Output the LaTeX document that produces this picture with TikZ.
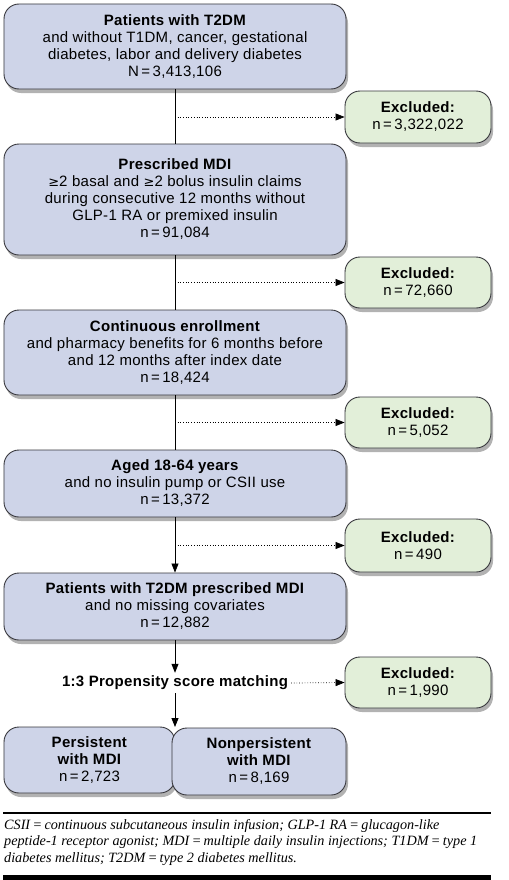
\documentclass[tikz,border=0pt]{standalone}
\usepackage{fontspec}
\setmainfont[LetterSpace=2]{Liberation Sans}
\newfontfamily\notefont{Liberation Serif}
\newfontfamily\symfont{DejaVu Sans}
\usetikzlibrary{arrows.meta,shadows}
\definecolor{boxblue}{RGB}{206,212,232}
\definecolor{boxgreen}{RGB}{226,239,217}
\definecolor{edgegray}{RGB}{55,55,60}
\tikzset{
  mainbox/.style={draw=edgegray, line width=0.9bp, fill=boxblue, rounded corners=15bp,
    minimum width=342bp, align=center, inner sep=2bp,
    font=\fontsize{15bp}{17bp}\selectfont,
    drop shadow={shadow xshift=2bp, shadow yshift=-4bp, opacity=0.3, fill=black}},
  exbox/.style={draw=edgegray, line width=0.9bp, fill=boxgreen, rounded corners=15bp,
    minimum width=146bp, align=center, inner sep=2bp,
    font=\fontsize{15bp}{17bp}\selectfont,
    drop shadow={shadow xshift=2bp, shadow yshift=-4bp, opacity=0.3, fill=black}},
  flow/.style={line width=0.8bp, draw=black},
  flowarrow/.style={line width=0.8bp, draw=black, -{Triangle[length=9bp,width=7bp]}},
  exarrow/.style={line width=0.7bp, dotted, draw=black, -{Triangle[length=9bp,width=7bp]}},
}
\newcommand{\gesym}{{\symfont\fontsize{13bp}{17bp}\selectfont ≥}}
\begin{document}
\begin{tikzpicture}[x=1bp,y=-1bp]
\useasboundingbox (0,0) rectangle (509,880);
% main column
\node[mainbox, minimum height=85bp] (b1) at (175,46.5)
  {\textbf{Patients with T2DM}\\and without T1DM, cancer, gestational\\diabetes, labor and delivery diabetes\\N\,=\,3,413,106};
\node[mainbox, minimum height=111bp] (b2) at (175,199.5)
  {\textbf{Prescribed MDI}\\\gesym2 basal and \gesym2 bolus insulin claims\\during consecutive 12 months without\\GLP-1 RA or premixed insulin\\n\,=\,91,084};
\node[mainbox, minimum height=85bp] (b3) at (175,352.5)
  {\textbf{Continuous enrollment}\\and pharmacy benefits for 6 months before\\and 12 months after index date\\n\,=\,18,424};
\node[mainbox, minimum height=67bp] (b4) at (175,483.5)
  {\textbf{Aged 18-64 years}\\and no insulin pump or CSII use\\n\,=\,13,372};
\node[mainbox, minimum height=67bp] (b5) at (175,606.5)
  {\textbf{Patients with T2DM prescribed MDI}\\and no missing covariates\\n\,=\,12,882};
\node[font=\bfseries\fontsize{15bp}{17bp}\selectfont, inner sep=3bp] (psm) at (175,683) {1:3 Propensity score matching};
\node[mainbox, minimum width=171bp, minimum height=66bp] (pers) at (89.5,760)
  {\textbf{Persistent}\\\textbf{with MDI}\\n\,=\,2,723};
\node[mainbox, minimum width=174bp, minimum height=67bp] (nonp) at (259,761.5)
  {\textbf{Nonpersistent}\\\textbf{with MDI}\\n\,=\,8,169};
% excluded boxes
\node[exbox, minimum height=52bp] (e1) at (418,117) {\textbf{Excluded:}\\n\,=\,3,322,022};
\node[exbox, minimum height=51bp] (e2) at (418,282.5) {\textbf{Excluded:}\\n\,=\,72,660};
\node[exbox, minimum height=51bp] (e3) at (418,422.5) {\textbf{Excluded:}\\n\,=\,5,052};
\node[exbox, minimum height=53bp] (e4) at (418,545.5) {\textbf{Excluded:}\\n\,=\,490};
\node[exbox, minimum height=51bp] (e5) at (418,682.5) {\textbf{Excluded:}\\n\,=\,1,990};
% branch points
\coordinate (p1) at (175,117);
\coordinate (p2) at (175,282.5);
\coordinate (p3) at (175,422.5);
\coordinate (p4) at (175,545.5);
\coordinate (notch) at (175,727);
% connectors
\draw[flow] (b1.south) -- (b2.north);
\draw[flow] (b2.south) -- (b3.north);
\draw[flow] (b3.south) -- (b4.north);
\draw[flowarrow] (b4.south) -- (b5.north);
\draw[flowarrow] (b5.south) -- (psm.north);
\draw[flowarrow] (psm.south) -- (notch);
\draw[exarrow] (p1) -- (e1.west);
\draw[exarrow] (p2) -- (e2.west);
\draw[exarrow] (p3) -- (e3.west);
\draw[exarrow] (p4) -- (e4.west);
\draw[exarrow] (psm.east) -- (e5.west);
% footnote
\draw[line width=2bp] (3,813) -- (491,813);
\node[anchor=north west, align=left, inner sep=0pt, font=\notefont\itshape\fontsize{14.2bp}{16.5bp}\selectfont] (note) at (4,819)
  {CSII\,=\,continuous subcutaneous insulin infusion; GLP-1 RA\,=\,glucagon-like\\
   peptide-1 receptor agonist; MDI\,=\,multiple daily insulin injections; T1DM\,=\,type 1\\
   diabetes mellitus; T2DM\,=\,type 2 diabetes mellitus.};
\fill[black] (3,875) rectangle (491,880);
\end{tikzpicture}
\end{document}
